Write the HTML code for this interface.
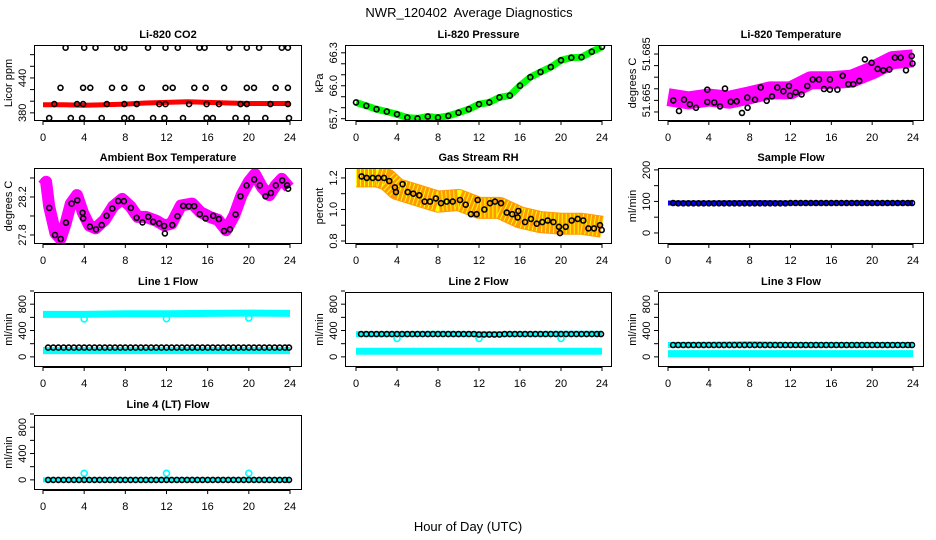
<!DOCTYPE html>
<html><head><meta charset="utf-8">
<style>
html,body{margin:0;padding:0;background:#fff;}
svg{display:block;font-family:"Liberation Sans",Arial,sans-serif;}
</style></head>
<body>
<svg id="chart" width="936" height="540" viewBox="0 0 936 540">
<text x="469" y="17" font-size="13" text-anchor="middle" xml:space="preserve">NWR_120402  Average Diagnostics</text>
<text x="468" y="531" font-size="13" text-anchor="middle">Hour of Day (UTC)</text>
</svg>
<script>
// ---------- data ----------
const xTickVals = [0,4,8,12,16,20,24];
const flowHours = [0.5,1,1.5,2,2.5,3,3.5,4,4.5,5,5.5,6,6.5,7,7.5,8,8.5,9,9.5,10,10.5,11,11.5,12,12.5,13,13.5,14,14.5,15,15.5,16,16.5,17,17.5,18,18.5,19,19.5,20,20.5,21,21.5,22,22.5,23,23.5,23.9];

// CO2
const co2BandHours = [0,2,4,6,8,10,12,14,16,18,20,22,24];
const co2BandVals = [394,394,393,394,395,397,398,399,398,397,396,396,396];
const co2CircHours = [2.2,4.0,5.1,7.2,7.9,10.2,11.9,13.1,15.2,15.7,18.1,19.8,21.0,23.2,23.8,
  1.7,3.9,4.6,6.7,7.9,9.6,11.9,12.6,14.7,15.8,17.6,19.8,20.5,22.6,23.8,
  1.1,3.3,3.9,6.2,7.9,9.1,11.3,11.9,14.2,15.9,17.1,19.2,19.8,22.1,23.8,
  0.6,2.7,3.8,5.7,7.9,8.6,10.7,11.8,13.6,15.9,16.5,18.7,19.8,21.6,23.9];
const co2CircVals = [492,492,492,492,492,492,492,492,492,492,492,492,492,492,492,
  423,423,423,423,423,423,423,423,423,423,423,423,423,423,423,
  395,395,395,395,395,395,395,395,395,395,395,395,395,395,395,
  371,371,371,371,371,371,371,371,371,371,371,371,371,371,371];

// Pressure
const pressHours = [0,1,2,3,4,5,6,7,8,9,10,11,12,13,14,15,16,17,18,19,20,21,22,23,24];
const pressVals = [65.848,65.817,65.786,65.765,65.74,65.71,65.703,65.72,65.71,65.725,65.755,65.786,65.832,65.848,65.894,65.91,66.0,66.078,66.125,66.17,66.232,66.255,66.26,66.31,66.355];

// Li-820 temperature
const tempBandHours = [0,2,4,6,8,10,12,14,16,18,20,22,24];
const tempBandVals = [51.6664,51.665,51.6662,51.6653,51.6672,51.6693,51.6693,51.6737,51.6737,51.6744,51.678,51.6824,51.6831];
const tempCircHours = [0.52,1.08,1.57,2.15,2.74,3.85,3.85,4.54,5.09,5.58,6.14,6.73,7.25,7.77,7.8,8.52,9.08,9.67,10.19,10.71,11.3,11.85,11.95,12.51,13.09,13.65,14.17,14.79,15.28,15.86,15.86,16.59,17.11,17.66,18.15,18.74,19.29,19.94,20.53,21.09,21.68,22.23,22.79,23.31,23.87,23.95];
const tempCircVals = [51.665,51.6604,51.6653,51.6633,51.6618,51.6696,51.6643,51.6641,51.6624,51.6701,51.6644,51.6646,51.6596,51.6662,51.6618,51.6653,51.6706,51.6648,51.6667,51.6705,51.6689,51.6712,51.667,51.6685,51.6676,51.6712,51.674,51.674,51.6699,51.674,51.6696,51.6696,51.6756,51.672,51.672,51.6734,51.6827,51.6812,51.6786,51.678,51.6783,51.6834,51.6834,51.678,51.6841,51.6809];

// Ambient box temperature
const ambHours = [0,0.3,0.6,1.2,1.7,2.2,2.7,3.3,3.9,4.5,5.1,6,6.8,7.7,8.5,9.2,10,11,11.8,12.5,13.4,14.5,15.3,16.2,17,17.8,18.6,19.3,20,20.6,21.3,22,22.6,23.2,23.9];
const ambVals = [28.32,28.36,28.1,27.82,27.76,27.92,28.13,28.22,28.03,27.9,27.87,27.96,28.1,28.18,28.1,27.99,27.99,27.95,27.9,27.92,28.11,28.13,28.04,27.99,27.96,27.85,28.01,28.22,28.36,28.44,28.3,28.22,28.32,28.39,28.3];
const ambCircHours = [0.61,1.17,1.72,2.23,2.78,3.33,3.85,3.91,4.56,5.15,5.7,6.18,6.73,7.31,7.86,8.54,9.09,9.67,10.23,10.71,11.29,11.78,11.84,12.56,13.07,13.62,14.17,14.69,15.24,15.79,16.54,17.09,17.6,18.16,18.71,19.19,19.78,20.52,21.07,21.62,22.14,22.62,23.24,23.72,23.82];
const ambCircVals = [28.085,27.8,27.758,27.929,28.13,28.165,28.033,27.974,27.887,27.859,27.904,28.002,28.078,28.158,28.155,28.085,27.981,27.932,27.991,27.939,27.922,27.894,27.817,27.904,27.998,28.106,28.103,28.103,28.019,27.974,28.002,27.967,27.842,27.859,28.016,28.207,28.322,28.384,28.322,28.207,28.242,28.322,28.374,28.322,28.287];

// Gas stream RH
const rhBandHours = [0,2,3,4,6,8,10,12,14,16,18,20,22,24];
const rhBandVals = [1.21,1.21,1.19,1.13,1.09,1.05,1.06,1.01,1.01,0.95,0.92,0.91,0.91,0.89];
const rhCircHours = [0.55,1.04,1.63,2.18,2.73,3.25,3.8,3.9,4.55,5.04,5.59,6.18,6.69,7.22,7.8,8.29,8.85,9.43,10.15,10.7,11.22,11.77,11.87,12.52,13.07,13.56,14.15,14.7,15.25,15.77,15.84,16.49,17.07,17.63,18.18,18.7,19.25,19.8,19.9,20.46,21.04,21.63,22.18,22.67,23.22,23.8,23.97];
const rhCircVals = [1.21,1.2,1.2,1.2,1.2,1.18,1.14,1.11,1.16,1.11,1.1,1.09,1.05,1.05,1.07,1.04,1.05,1.05,1.06,1.03,0.97,0.97,1.06,1.0,1.04,1.05,1.04,0.98,0.97,0.95,0.99,0.92,0.94,0.91,0.92,0.93,0.92,0.89,0.85,0.89,0.93,0.94,0.93,0.88,0.88,0.9,0.87];

// Sample flow
const sampleBandHours = [0,4,8,12,16,20,24];
const sampleBandVals = [95,95,96,95,95,95,95];
const sampleCircVals = [95,94,94,94,94,94,94,94,94,94,94,94,94,94,94,94,94,94,94,94,94,94,94,95,95,95,95,95,95,95,95,95,95,95,95,95,95,95,95,95,95,95,95,95,95,95,95,95];

// Line flows
const lineBandHours = [0,4,8,12,16,20,24];
const line1Upper = [645,645,655,655,660,665,660];
const line1Lower = [95,95,95,95,95,95,95];
const line1Black = [140,140,140,140,140,140,140,140,140,140,140,140,140,140,140,140,140,140,140,140,140,140,140,140,140,140,140,140,140,140,140,140,140,140,140,140,140,140,140,140,140,140,140,140,140,140,140,140];
const dipHours = [4,12,20];
const line1Dips = [575,580,590];
const line2Upper = [345,345,350,345,345,350,350];
const line2Lower = [85,85,85,85,85,85,85];
const line2Black = [345,345,345,345,345,345,345,345,345,345,345,345,345,345,345,345,345,345,345,345,345,345,345,340,340,340,340,340,345,345,345,345,345,345,345,345,345,345,345,345,345,345,345,345,345,345,345,345];
const line2Dips = [280,280,280];
const line3Upper = [180,185,190,180,180,180,180];
const line3Lower = [50,50,50,50,50,50,50];
const line3Black = [180,180,180,180,180,180,180,180,180,180,180,180,180,180,180,180,180,180,180,180,180,180,180,180,180,180,180,180,180,180,180,180,180,180,180,180,180,180,180,180,180,180,180,180,180,180,180,180];
const line4Cyan = [0,0,0,0,0,0,0];
const line4Black = [0,0,0,0,0,0,0,0,0,0,0,0,0,0,0,0,0,0,0,0,0,0,0,0,0,0,0,0,0,0,0,0,0,0,0,0,0,0,0,0,0,0,0,0,0,0,0,0];
const line4Dips = [100,100,100];

const flowTicks = [0,200,400,600,800,1000];
const flowLabels = ["0","","400","","800",""];

// ---------- layout ----------
const NS = "http://www.w3.org/2000/svg";
const svg = document.getElementById("chart");
const cols = [{l:34,r:302,x0:43,x24:290},{l:345,r:612,x0:356,x24:602},{l:658,r:924,x0:668,x24:913}];
const rows = [{t:45,b:121},{t:168,b:244},{t:292,b:367},{t:415,b:490}];

function mk(tag, attrs, parent){
  const e = document.createElementNS(NS, tag);
  for (const k in attrs) e.setAttribute(k, attrs[k]);
  (parent||svg).appendChild(e);
  return e;
}

function panel(p){
  const c = cols[p.col], r = rows[p.row];
  const g = mk("g", {});
  
  
  const xs = h => c.x0 + (h/24)*(c.x24-c.x0);
  const ys = v => r.b - (v - p.ylim[0])/(p.ylim[1]-p.ylim[0])*(r.b-r.t);
  const clipId = "clip-"+p.name;
  const cp = mk("clipPath", {id:clipId}, g);
  mk("rect", {x:c.l, y:r.t, width:c.r-c.l, height:r.b-r.t}, cp);
  const dg = mk("g", {"clip-path":"url(#"+clipId+")"}, g);
  (p.bands||[]).forEach(b=>{
    const pts = b.h.map((h,i)=>xs(h).toFixed(1)+","+ys(b.v[i]).toFixed(1)).join(" ");
    const pl = mk("polyline", {points:pts, fill:"none", stroke:b.color, "stroke-width":b.w, "stroke-linejoin":"round", "stroke-linecap":"butt"}, dg);
    
    
    if (b.dot){
      const pl2 = mk("polyline", {points:pts, fill:"none", stroke:b.dot, "stroke-width":b.w-2, "stroke-dasharray":"1 3", "stroke-linejoin":"round"}, dg);
      
      
    }
  });
  (p.circles||[]).forEach(cs=>{
    cs.h.forEach((h,i)=>{
      const ci = mk("circle", {cx:xs(h).toFixed(1), cy:ys(cs.v[i]).toFixed(1), r:cs.r||2.5, fill:"none", stroke:cs.color, "stroke-width":cs.sw||1.6}, dg);
      
      
    });
  });
  const box = mk("rect", {x:c.l+0.5, y:r.t+0.5, width:c.r-c.l-1, height:r.b-r.t-1, fill:"none", stroke:"#000", "stroke-width":1}, g);
  
  
  const tt = mk("text", {x:(c.l+c.r)/2, y:r.t-7, "font-size":11, "font-weight":"bold", "text-anchor":"middle"}, g);
  tt.textContent = p.title;
  
  
  const xa = mk("g", {}, g);
  
  
  mk("line", {x1:xs(0), x2:xs(24), y1:r.b+0.5, y2:r.b+0.5, stroke:"#000"}, xa);
  xTickVals.forEach(v=>{
    mk("line", {x1:xs(v), x2:xs(v), y1:r.b, y2:r.b+4, stroke:"#000"}, xa);
    const t = mk("text", {x:xs(v), y:r.b+20, "font-size":11, "text-anchor":"middle"}, xa);
    t.textContent = v;
    
    
  });
  const ya = mk("g", {}, g);
  
  
  p.yticks.forEach((v,i)=>{
    const y = ys(v);
    mk("line", {x1:c.l-4, x2:c.l, y1:y, y2:y, stroke:"#000"}, ya);
    const lab = p.ylabels[i];
    if (lab){
      const t = mk("text", {x:c.l-8, y:y, "font-size":11, "text-anchor":"middle", transform:"rotate(-90 "+(c.l-8)+" "+y+")"}, ya);
      t.textContent = lab;
      
      
    }
  });
  const ym = (r.t+r.b)/2;
  const yl = mk("text", {x:c.l-22, y:ym, "font-size":11, "text-anchor":"middle", transform:"rotate(-90 "+(c.l-22)+" "+ym+")"}, g);
  yl.textContent = p.ylab;
  
  
}

const flowYlim = [-154, 985];
const cyan = "#00ffff";

panel({name:"co2-panel", col:0, row:0, title:"Li-820 CO2", ylab:"Licor ppm", ylim:[366,496.6],
  yticks:[380,400,420,440,460,480], ylabels:["380","","","440","",""],
  bands:[{name:"co2-band", h:co2BandHours, v:co2BandVals, color:"#ff0000", w:5}],
  circles:[{name:"co2-average-point", h:co2CircHours, v:co2CircVals, color:"#000"}]});

panel({name:"pressure-panel", col:1, row:0, title:"Li-820 Pressure", ylab:"kPa", ylim:[65.679,66.371],
  yticks:[65.7,65.8,65.9,66.0,66.1,66.2,66.3], ylabels:["65.7","","","66.0","","","66.3"],
  bands:[{name:"pressure-band", h:pressHours, v:pressVals, color:"#00ff00", w:7}],
  circles:[{name:"pressure-average-point", h:pressHours, v:pressVals, color:"#000"}]});

panel({name:"temperature-panel", col:2, row:0, title:"Li-820 Temperature", ylab:"degrees C", ylim:[51.6561,51.6889],
  yticks:[51.66,51.665,51.67,51.675,51.68,51.685], ylabels:["","51.665","","","","51.685"],
  bands:[{name:"temperature-band", h:tempBandHours, v:tempBandVals, color:"#ff00ff", w:18}],
  circles:[{name:"temperature-average-point", h:tempCircHours, v:tempCircVals, color:"#000"}]});

panel({name:"ambient-panel", col:0, row:1, title:"Ambient Box Temperature", ylab:"degrees C", ylim:[27.705,28.505],
  yticks:[27.8,28.0,28.2,28.4], ylabels:["27.8","","28.2",""],
  bands:[{name:"ambient-band", h:ambHours, v:ambVals, color:"#ff00ff", w:12}],
  circles:[{name:"ambient-average-point", h:ambCircHours, v:ambCircVals, color:"#000"}]});

panel({name:"rh-panel", col:1, row:1, title:"Gas Stream RH", ylab:"percent", ylim:[0.781,1.263],
  yticks:[0.8,0.9,1.0,1.1,1.2], ylabels:["0.8","","1.0","","1.2"],
  bands:[{name:"rh-band", h:rhBandHours, v:rhBandVals, color:"#ff9a00", w:22, dot:"#ffff00"}],
  circles:[{name:"rh-average-point", h:rhCircHours, v:rhCircVals, color:"#000"}]});

panel({name:"sample-flow-panel", col:2, row:1, title:"Sample Flow", ylab:"ml/min", ylim:[-35,206],
  yticks:[0,50,100,150,200], ylabels:["0","","100","","200"],
  bands:[{name:"sample-flow-band", h:sampleBandHours, v:sampleBandVals, color:"#0000ff", w:5}],
  circles:[{name:"sample-flow-average-point", h:flowHours, v:sampleCircVals, color:"#000"}]});

panel({name:"line1-panel", col:0, row:2, title:"Line 1 Flow", ylab:"ml/min", ylim:flowYlim,
  yticks:flowTicks, ylabels:flowLabels,
  bands:[{name:"line1-upper-band", h:lineBandHours, v:line1Upper, color:cyan, w:7},
         {name:"line1-lower-band", h:lineBandHours, v:line1Lower, color:cyan, w:7}],
  circles:[{name:"line1-dip-point", h:dipHours, v:line1Dips, color:cyan, r:3},
           {name:"line1-average-point", h:flowHours, v:line1Black, color:"#000"}]});

panel({name:"line2-panel", col:1, row:2, title:"Line 2 Flow", ylab:"ml/min", ylim:flowYlim,
  yticks:flowTicks, ylabels:flowLabels,
  bands:[{name:"line2-upper-band", h:lineBandHours, v:line2Upper, color:cyan, w:6},
         {name:"line2-lower-band", h:lineBandHours, v:line2Lower, color:cyan, w:7}],
  circles:[{name:"line2-dip-point", h:dipHours, v:line2Dips, color:cyan, r:3},
           {name:"line2-average-point", h:flowHours, v:line2Black, color:"#000"}]});

panel({name:"line3-panel", col:2, row:2, title:"Line 3 Flow", ylab:"ml/min", ylim:flowYlim,
  yticks:flowTicks, ylabels:flowLabels,
  bands:[{name:"line3-upper-band", h:lineBandHours, v:line3Upper, color:cyan, w:6},
         {name:"line3-lower-band", h:lineBandHours, v:line3Lower, color:cyan, w:7}],
  circles:[{name:"line3-average-point", h:flowHours, v:line3Black, color:"#000"}]});

panel({name:"line4-panel", col:0, row:3, title:"Line 4 (LT) Flow", ylab:"ml/min", ylim:flowYlim,
  yticks:flowTicks, ylabels:flowLabels,
  bands:[{name:"line4-band", h:lineBandHours, v:line4Cyan, color:cyan, w:5}],
  circles:[{name:"line4-spike-point", h:dipHours, v:line4Dips, color:cyan, r:3},
           {name:"line4-average-point", h:flowHours, v:line4Black, color:"#000"}]});
</script>
</body></html>
